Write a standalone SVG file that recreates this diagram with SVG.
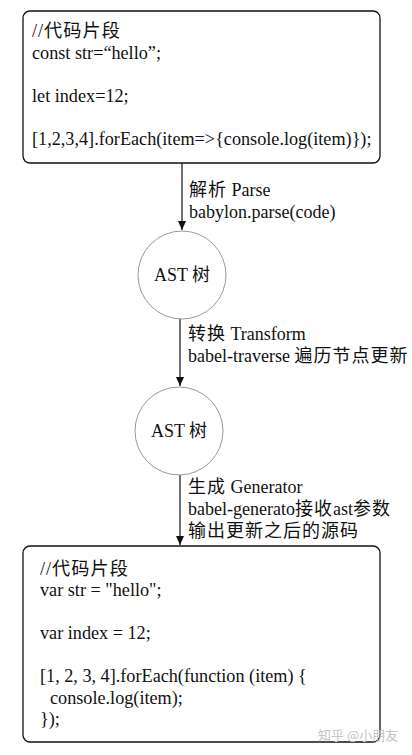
<svg xmlns="http://www.w3.org/2000/svg" width="412" height="755" viewBox="0 0 412 755">
<style>
.t{font-family:"Liberation Serif","Noto Sans CJK SC",serif;font-size:18px;fill:#111}
.c{font-size:18.2px}
.cjk{letter-spacing:1px}
.box{fill:#fff;stroke:#111;stroke-width:1.3}
.circ{fill:#fff;stroke:#999;stroke-width:1}
.edge{stroke:#111;stroke-width:1.2;fill:none}
.wm{font-family:"Noto Sans CJK SC",sans-serif;font-size:13px;fill:#c4c4c4}
</style>
<defs>
<marker id="ah" markerWidth="10" markerHeight="10" refX="9" refY="5" orient="auto" markerUnits="userSpaceOnUse">
<path d="M0,1 L9,5 L0,9 Z" fill="#111"/>
</marker>
</defs>
<rect width="412" height="755" fill="#fff"/>
<g id="connectors">
<line class="edge" x1="182" y1="163" x2="182" y2="230" marker-end="url(#ah)"/>
<line class="edge" x1="180" y1="319" x2="180" y2="386" marker-end="url(#ah)"/>
<line class="edge" x1="180" y1="475" x2="180" y2="545" marker-end="url(#ah)"/>
<text class="t" x="189" y="196"><tspan class="cjk">解析</tspan> Parse</text>
<text class="t" x="189" y="218">babylon.parse(code)</text>
<text class="t" x="188" y="340"><tspan class="cjk">转换</tspan> Transform</text>
<text class="t" x="188" y="362">babel-traverse <tspan class="cjk">遍历节点更新</tspan></text>
<text class="t" x="188" y="493"><tspan class="cjk">生成</tspan> Generator</text>
<text class="t" x="188" y="515">babel-generato<tspan class="cjk">接收</tspan>ast<tspan class="cjk">参数</tspan></text>
<text class="t cjk" x="188" y="537">输出更新之后的源码</text>
</g>
<g id="source">
<rect class="box" x="23" y="11" width="357" height="152" rx="7"/>
<text class="t c cjk" x="32" y="37">//代码片段</text>
<text class="t c" x="32" y="58.5">const str=“hello”;</text>
<text class="t c" x="32" y="102">let index=12;</text>
<text class="t c" x="32" y="145">[1,2,3,4].forEach(item=&gt;{console.log(item)});</text>
</g>
<g id="ast1">
<circle class="circ" cx="182" cy="275" r="44"/>
<text class="t" x="182" y="281" text-anchor="middle">AST 树</text>
</g>
<g id="ast2">
<circle class="circ" cx="179" cy="431" r="44"/>
<text class="t" x="179" y="437" text-anchor="middle">AST 树</text>
</g>
<g id="output">
<rect class="box" x="23" y="546" width="357" height="196" rx="7"/>
<text class="t c cjk" x="40" y="575">//代码片段</text>
<text class="t c" x="40" y="596">var str = "hello";</text>
<text class="t c" x="40" y="639">var index = 12;</text>
<text class="t c" x="40" y="682">[1, 2, 3, 4].forEach(function (item) {</text>
<text class="t c" x="50" y="703.5">console.log(item);</text>
<text class="t c" x="40" y="725">});</text>
</g>
<text class="wm" x="318" y="740">知乎 @小朋友</text>
</svg>
